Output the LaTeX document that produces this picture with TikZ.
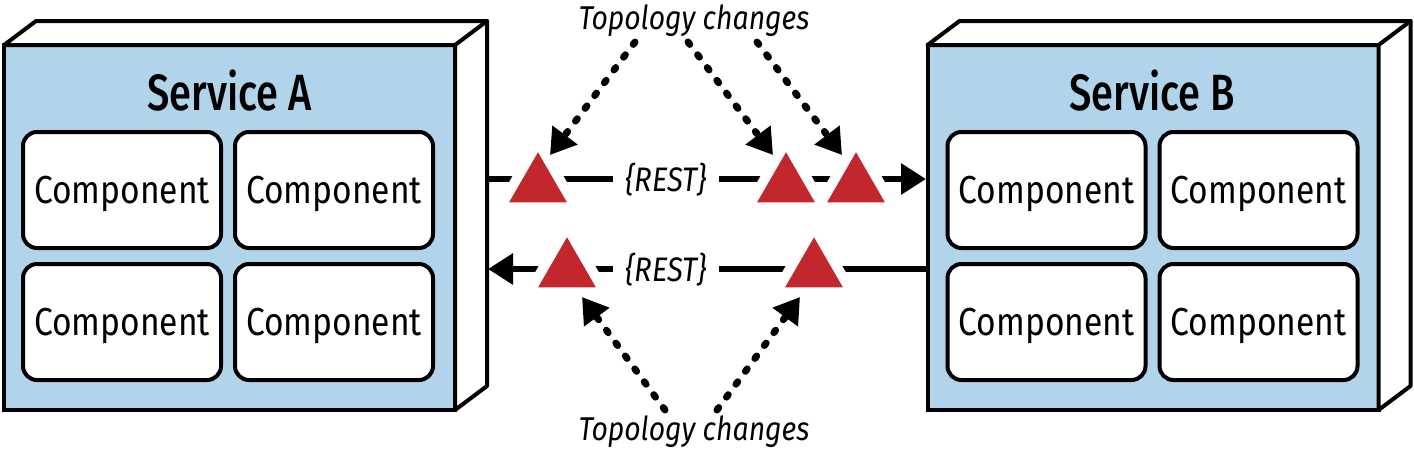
\documentclass[tikz,border=0pt]{standalone}
\usepackage{fontspec}
\setmainfont{Fira Sans}[FakeStretch=0.86]
\newfontfamily\titlefont{Fira Sans Medium}[FakeStretch=0.78]
\usetikzlibrary{arrows.meta,shapes.geometric}
\definecolor{svcblue}{HTML}{B1D4EA}
\definecolor{trired}{HTML}{C1272D}
\begin{document}
\begin{tikzpicture}[x=1pt,y=-1pt,
  front/.style={draw, line width=4pt, fill=svcblue, minimum width=451pt, minimum height=365pt, inner sep=0pt, outer sep=0pt},
  sideface/.style={draw, line width=4pt, fill=white, line join=round},
  comp/.style={draw, line width=4pt, fill=white, rounded corners=14pt, minimum width=198pt, minimum height=116pt, inner sep=0pt, text depth=0pt, font=\fontsize{39}{39}\selectfont},
  svctitle/.style={inner sep=0pt, text depth=0pt, font=\titlefont\fontsize{51}{51}\selectfont},
  conn/.style={line width=6pt, -{Triangle[length=25pt,width=30pt]}},
  rest/.style={fill=white, inner xsep=12pt, inner ysep=0pt, anchor=base, font=\itshape\fontsize{34}{34}\selectfont},
  tri/.style={regular polygon, regular polygon sides=3, fill=trired, draw=white, line width=10pt, minimum size=87pt, inner sep=0pt, line join=round},
  dotarr/.style={line width=7pt, dash pattern=on 3pt off 13pt, line cap=round, -{Triangle[length=25pt,width=30pt]}},
  topo/.style={inner sep=0pt, text depth=0pt, font=\itshape\fontsize{33}{33}\selectfont}
]
\useasboundingbox (0,0) rectangle (1414,453);

% Service A
\node[front] (fa) at (229.5,227.5) {};
\draw[sideface] (fa.north west) -- ++(32,-24) -- ++(451,0) -- ++(0,365) -- (fa.south east) -- (fa.north east) -- cycle;
\draw[line width=4pt, line cap=round] (fa.north east) -- ++(32,-24);
\node[svctitle] (ta) at (229.5,90) {Service A};
\node[comp] (a1) at (122,190) {Component};
\node[comp] (a2) at (334,190) {Component};
\node[comp] (a3) at (122,322) {Component};
\node[comp] (a4) at (334,322) {Component};

% Service B
\node[front] (fb) at (1153,227.5) {};
\draw[sideface] (fb.north west) -- ++(32,-24) -- ++(451,0) -- ++(0,365) -- (fb.south east) -- (fb.north east) -- cycle;
\draw[line width=4pt, line cap=round] (fb.north east) -- ++(32,-24);
\node[svctitle] (tb) at (1152,90) {Service B};
\node[comp] (b1) at (1046.5,190) {Component};
\node[comp] (b2) at (1258.5,190) {Component};
\node[comp] (b3) at (1046.5,322) {Component};
\node[comp] (b4) at (1258.5,322) {Component};

% REST connectors
\coordinate (s1) at (486,179);
\coordinate (e1) at (926,179);
\coordinate (s2) at (928,269);
\coordinate (e2) at (488,269);
\draw[conn] (s1) -- (e1);
\draw[conn] (s2) -- (e2);
\node[rest] (r1) at (666,191.5) {\{REST\}};
\node[rest] (r2) at (666,281.5) {\{REST\}};

% triangles
\node[tri] (t1) at (538,185.5) {};
\node[tri] (t2) at (786,185.5) {};
\node[tri] (t3) at (856,185.5) {};
\node[tri] (t4) at (567,270.5) {};
\node[tri] (t5) at (814,270.5) {};

% topology labels
\node[topo] (topA) at (694,17.5) {Topology changes};
\node[topo] (topB) at (694,428) {Topology changes};

\coordinate (u1) at (635,42);
\coordinate (u2) at (688,42);
\coordinate (u3) at (757,42);
\coordinate (h1) at (550,155);
\coordinate (h2) at (773,155);
\coordinate (h3) at (842,155);
\draw[dotarr] (u1) -- (h1);
\draw[dotarr] (u2) -- (h2);
\draw[dotarr] (u3) -- (h3);

\coordinate (d1) at (665,410);
\coordinate (d2) at (717,410);
\coordinate (k1) at (582,297);
\coordinate (k2) at (800,297);
\draw[dotarr] (d1) -- (k1);
\draw[dotarr] (d2) -- (k2);
\end{tikzpicture}
\end{document}
